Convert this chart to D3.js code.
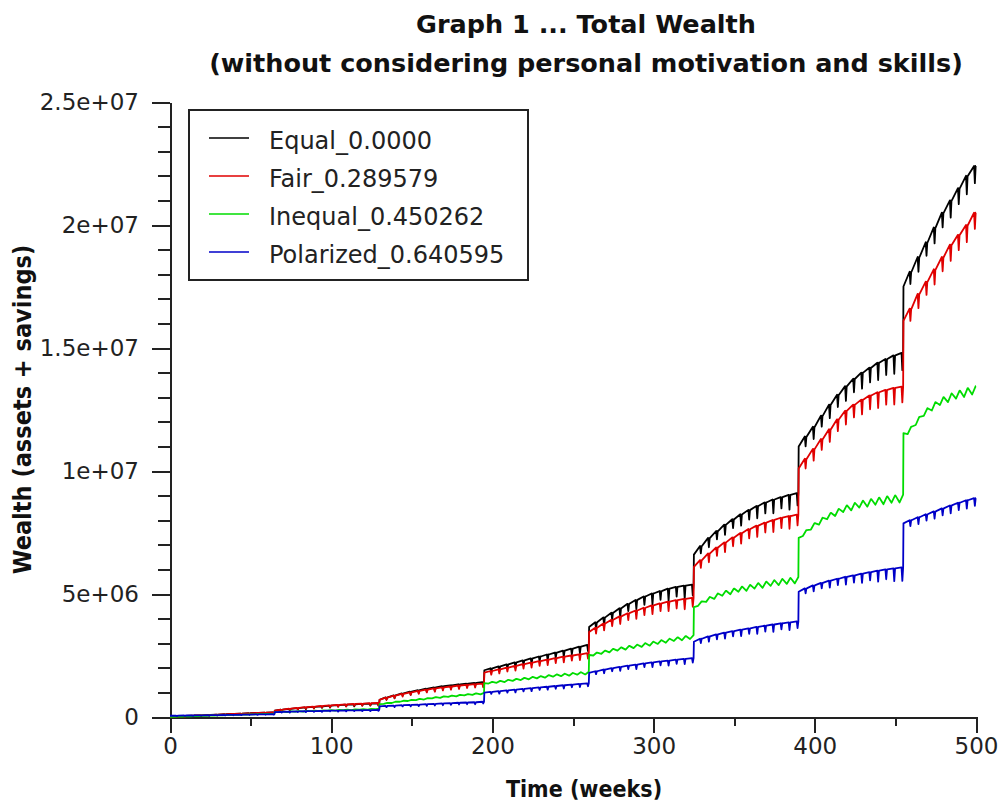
<!DOCTYPE html>
<html>
<head>
<meta charset="utf-8">
<script src="https://cdn.jsdelivr.net/npm/d3@7"></script>
<style>
body { margin: 0; background: #fff; }
svg text { font-family: "DejaVu Sans", sans-serif; fill: #111; }
.axis path, .axis line { stroke: #222; stroke-width: 2; shape-rendering: crispEdges; }
.axis text { font-size: 23px; fill: #222; }
.title { font-size: 25.5px; font-weight: bold; text-anchor: middle; }
.label { font-family: "DejaVu Sans Condensed", "DejaVu Sans", sans-serif; font-stretch: condensed; font-size: 23px; font-weight: bold; text-anchor: middle; }
.ylabel { font-size: 25px; }
.legend text { font-size: 24px; fill: #222; }
</style>
</head>
<body>
<div id="vis"></div>
<script>
// values are in units of 100 000 (wealth), one level every 5 weeks
var UNIT = 1e5;
var weeks = d3.range(0, 501, 5);
var seriesNames = ["Equal_0.0000", "Fair_0.289579", "Inequal_0.450262", "Polarized_0.640595"];
var seriesColors = ["#000000", "#e00000", "#00dc00", "#0000c8"];

var equalLevel = [
	0.1, 0.3, 0.4, 0.6, 0.7, 0.9, 1.0, 1.2, 1.3, 1.4, 1.6, 1.7, 1.8,
	2.6, 3.0, 3.3, 3.6, 3.9, 4.1, 4.3, 4.6, 4.8, 5.0, 5.1, 5.3, 5.4,
	7.0, 8.0, 8.8, 9.6, 10.3, 10.9, 11.5, 12.0, 12.5, 12.9, 13.3, 13.6, 13.9,
	19.0, 19.8, 20.6, 21.4, 22.2, 23.0, 23.8, 24.6, 25.4, 26.2, 27.0, 27.8, 28.6,
	36.6, 38.5, 40.5, 42.4, 44.2, 46.0, 47.6, 49.0, 50.2, 51.2, 52.2, 52.9, 53.4,
	66, 69.5, 72.8, 75.6, 78.2, 80.4, 82.4, 84.2, 85.8, 87.2, 88.4, 89.4, 90.3,
	110, 114, 118, 122.5, 127, 131, 134.5, 137.5, 140, 142, 144, 145.5, 147,
	175, 181, 187, 193, 199, 205, 210, 215, 220, 224
];
var equalPreJump = [1.9, 5.5, 14.2, 29.3, 53.8, 91, 148];
var equalDrop = [
	0.2, 0.3, 0.2, 0.3, 0.3, 0.2, 0.3, 0.4, 0.3, 0.3, 0.4, 0.3, 0.4,
	0.5, 0.6, 0.5, 0.7, 0.6, 0.6, 0.8, 0.6, 0.7, 0.8, 0.7, 0.8, 0.9,
	1.0, 1.2, 1.0, 1.3, 1.1, 1.2, 1.4, 1.2, 1.3, 1.5, 1.3, 1.4, 1.6,
	1.6, 2.0, 1.8, 2.2, 1.9, 2.3, 2.0, 2.4, 2.2, 2.6, 2.3, 2.7, 2.5,
	2.6, 3.2, 2.8, 3.6, 3.0, 3.8, 3.4, 4.5, 3.6, 5.0, 4.0, 5.5, 4.4,
	3.0, 3.8, 3.4, 4.2, 3.6, 4.6, 4.0, 5.0, 4.4, 5.6, 4.6, 6.0, 5.0,
	4.0, 5.0, 4.5, 5.5, 5.0, 6.0, 5.5, 6.5, 6.0, 7.0, 6.5, 7.5, 7.0,
	5.0, 6.0, 5.5, 6.5, 6.0, 7.0, 6.5, 7.5, 7.0
];

var fairLevel = [
	0.1, 0.3, 0.4, 0.5, 0.7, 0.8, 1.0, 1.1, 1.3, 1.4, 1.5, 1.7, 1.8,
	2.6, 3.0, 3.4, 3.7, 4.0, 4.2, 4.5, 4.7, 4.9, 5.1, 5.3, 5.4, 5.6,
	7.0, 7.9, 8.7, 9.4, 10.0, 10.6, 11.1, 11.6, 12.0, 12.4, 12.8, 13.1, 13.4,
	18.0, 18.7, 19.4, 20.1, 20.8, 21.5, 22.1, 22.7, 23.3, 23.9, 24.5, 25.0, 25.5,
	34.6, 36.3, 38.0, 39.5, 40.9, 42.2, 43.3, 44.4, 45.4, 46.2, 46.9, 47.5, 48.0,
	61, 63.8, 66.5, 68.9, 71.0, 73.0, 74.8, 76.4, 77.8, 79.0, 80.1, 81.0, 81.7,
	101, 105, 109, 113, 117, 121, 124.5, 127, 129, 130.7, 132, 133, 133.8,
	161, 166, 172, 177, 182, 187, 192, 196, 200, 205
];
var fairPreJump = [1.9, 5.7, 13.6, 26.0, 48.4, 82.3, 134.3];
var fairDrop = [
	0.2, 0.3, 0.2, 0.3, 0.2, 0.3, 0.3, 0.3, 0.4, 0.3, 0.3, 0.4, 0.3,
	0.5, 0.5, 0.6, 0.6, 0.7, 0.6, 0.7, 0.7, 0.8, 0.7, 0.8, 0.8, 0.9,
	0.9, 1.0, 1.1, 1.0, 1.2, 1.1, 1.3, 1.2, 1.3, 1.4, 1.3, 1.4, 1.5,
	1.5, 1.7, 1.6, 1.9, 1.8, 2.0, 1.9, 2.2, 2.0, 2.3, 2.1, 2.4, 2.3,
	2.4, 2.8, 2.6, 3.1, 2.8, 3.4, 3.0, 3.6, 3.2, 3.9, 3.4, 4.2, 3.6,
	3.2, 3.6, 3.4, 4.0, 3.6, 4.3, 3.8, 4.6, 4.0, 4.9, 4.2, 5.2, 4.4,
	4.0, 4.8, 4.4, 5.2, 4.8, 5.6, 5.2, 6.0, 5.6, 6.4, 6.0, 6.8, 6.4,
	5.0, 5.8, 5.4, 6.2, 5.8, 6.6, 6.2, 7.0, 6.6
];

var inequalLevel = [
	0.1, 0.2, 0.3, 0.4, 0.5, 0.6, 0.7, 0.8, 0.9, 1.0, 1.1, 1.2, 1.3,
	2.0, 2.2, 2.3, 2.4, 2.5, 2.6, 2.7, 2.8, 2.9, 3.0, 3.1, 3.2, 3.3,
	5.2, 5.7, 6.2, 6.6, 7.0, 7.4, 7.7, 8.1, 8.4, 8.7, 9.0, 9.3, 9.6,
	13.8, 14.3, 14.7, 15.1, 15.5, 15.9, 16.3, 16.6, 17.0, 17.3, 17.6, 17.9, 18.2,
	25.2, 26.2, 27.0, 27.7, 28.3, 28.9, 29.4, 30.0, 30.6, 31.2, 31.8, 32.4, 32.9,
	44.7, 47.0, 48.8, 50.2, 51.3, 52.2, 53.0, 53.7, 54.4, 55.0, 55.6, 56.1, 56.5,
	72.8, 76.0, 78.8, 81.0, 83.0, 84.6, 86.0, 87.0, 87.9, 88.6, 89.2, 89.7, 90.1,
	115.4, 118, 122, 125.5, 128, 130, 131.5, 132.7, 133.7, 134.5
];
var inequalPreJump = [1.4, 3.4, 9.8, 18.4, 33.3, 56.9, 90.4];
var inequalDrop = [
	0.1, 0.1, 0.1, 0.1, 0.1, 0.1, 0.1, 0.1, 0.1, 0.1, 0.1, 0.1, 0.1,
	0.2, 0.3, 0.2, 0.3, 0.2, 0.3, 0.2, 0.3, 0.2, 0.3, 0.2, 0.3, 0.2,
	0.4, 0.5, 0.4, 0.5, 0.5, 0.6, 0.5, 0.6, 0.5, 0.6, 0.5, 0.6, 0.6,
	0.7, 0.8, 0.9, 0.8, 0.9, 1.0, 0.9, 1.0, 0.9, 1.0, 1.1, 1.0, 1.1,
	1.2, 1.3, 1.4, 1.3, 1.5, 1.4, 1.5, 1.6, 1.5, 1.6, 1.5, 1.7, 1.6,
	1.8, 2.0, 2.2, 2.0, 2.3, 2.1, 2.4, 2.2, 2.5, 2.3, 2.5, 2.4, 2.6,
	2.4, 2.6, 2.8, 2.6, 2.9, 2.7, 3.0, 2.8, 3.1, 2.9, 3.2, 3.0, 3.2,
	3.0, 3.3, 3.1, 3.4, 3.2, 3.5, 3.3, 3.6, 3.4
];

var polarizedLevel = [
	0.5, 0.55, 0.6, 0.65, 0.7, 0.75, 0.8, 0.85, 0.9, 0.95, 1.0, 1.05, 1.1,
	2.0, 2.1, 2.2, 2.3, 2.4, 2.4, 2.5, 2.6, 2.6, 2.7, 2.7, 2.8, 2.8,
	4.3, 4.5, 4.6, 4.8, 4.9, 5.0, 5.2, 5.3, 5.5, 5.6, 5.8, 5.9, 6.0,
	9.9, 10.2, 10.5, 10.8, 11.1, 11.4, 11.7, 12.0, 12.3, 12.6, 12.9, 13.2, 13.5,
	17.9, 18.6, 19.3, 19.9, 20.4, 20.9, 21.3, 21.8, 22.2, 22.6, 22.9, 23.3, 23.6,
	30.6, 31.8, 32.8, 33.6, 34.3, 34.9, 35.5, 36.0, 36.6, 37.1, 37.6, 38.1, 38.5,
	50.9, 52.3, 53.5, 54.5, 55.4, 56.2, 57.0, 57.6, 58.3, 58.9, 59.5, 60.0, 60.4,
	78.7, 80, 81.2, 82.4, 83.6, 84.8, 86, 87.1, 88.1, 89
];
var polarizedPreJump = [1.15, 2.9, 6.2, 13.7, 23.9, 38.9, 60.8];
var polarizedDrop = [
	0.2, 0.2, 0.2, 0.2, 0.2, 0.2, 0.2, 0.2, 0.2, 0.2, 0.2, 0.2, 0.2,
	0.3, 0.4, 0.3, 0.4, 0.3, 0.4, 0.3, 0.4, 0.4, 0.3, 0.4, 0.4, 0.4,
	0.5, 0.6, 0.5, 0.6, 0.6, 0.7, 0.6, 0.7, 0.6, 0.7, 0.7, 0.8, 0.7,
	0.8, 1.0, 0.9, 1.1, 1.0, 1.2, 1.0, 1.2, 1.1, 1.3, 1.1, 1.3, 1.2,
	1.2, 1.5, 1.3, 1.6, 1.4, 1.8, 1.5, 1.9, 1.6, 2.0, 1.7, 2.1, 1.8,
	1.8, 2.2, 2.0, 2.4, 2.1, 2.6, 2.2, 2.8, 2.4, 3.0, 2.5, 3.2, 2.8,
	2.0, 2.4, 2.2, 2.8, 2.6, 3.2, 3.0, 3.8, 3.4, 4.5, 4.0, 5.2, 5.5,
	2.4, 2.8, 2.6, 3.0, 2.8, 3.2, 3.0, 3.4, 3.2
];

var xTicks = [0, 100, 200, 300, 400, 500];
var xMinorTicks = [50, 150, 250, 350, 450];
var yTicks = [0, 5e6, 1e7, 1.5e7, 2e7, 2.5e7];
var yTickLabels = ["0", "5e+06", "1e+07", "1.5e+07", "2e+07", "2.5e+07"];
var yMinorTicks = d3.range(1e6, 2.5e7, 1e6).filter(function (v) { return v % 5e6 !== 0; });

var TEETH_PER_ERA = 13;

// build the polyline of one series: rise, a short spike down, then a step at each era end
function buildPoints(level, drop, preJump, vShape) {
	var pts = [];
	for (var i = 0; i < drop.length; i++) {
		var w = weeks[i];
		var boundary = (i + 1) % TEETH_PER_ERA === 0;
		var end = boundary ? preJump[(i + 1) / TEETH_PER_ERA - 1] : level[i + 1];
		var dip = end - drop[i];
		pts.push([w, level[i]]);
		if (vShape) {
			pts.push([w + 2.6, dip], [w + 4.8, end]);
		} else {
			pts.push([w + 3.8, end], [w + 4.3, dip], [w + 4.8, end]);
		}
	}
	pts.push([weeks[weeks.length - 1], level[level.length - 1]]);
	return pts;
}

var series = [
	buildPoints(equalLevel, equalDrop, equalPreJump, false),
	buildPoints(fairLevel, fairDrop, fairPreJump, false),
	buildPoints(inequalLevel, inequalDrop, inequalPreJump, true),
	buildPoints(polarizedLevel, polarizedDrop, polarizedPreJump, false)
];

var width = 1005;
var height = 806;
var plot = { left: 170, right: 976, top: 102, bottom: 717 };

var x = d3.scaleLinear().domain([0, 500]).range([plot.left, plot.right]);
var y = d3.scaleLinear().domain([0, 2.5e7]).range([plot.bottom, plot.top]);

var svg = d3.select("#vis").append("svg")
	.attr("width", width)
	.attr("height", height);

// axes
svg.append("g")
	.attr("class", "axis")
	.attr("transform", "translate(" + plot.left + ",0)")
	.call(d3.axisLeft(y).tickValues(yMinorTicks).tickSize(12).tickSizeOuter(0).tickFormat(""));

svg.append("g")
	.attr("class", "axis")
	.attr("transform", "translate(" + plot.left + ",0)")
	.call(d3.axisLeft(y).tickValues(yTicks).tickSize(18).tickSizeOuter(0).tickPadding(13)
		.tickFormat(function (d, i) { return yTickLabels[i]; }));

svg.append("g")
	.attr("class", "axis")
	.attr("transform", "translate(0," + plot.bottom + ")")
	.call(d3.axisBottom(x).tickValues(xMinorTicks).tickSize(9).tickSizeOuter(0).tickFormat(""));

svg.append("g")
	.attr("class", "axis")
	.attr("transform", "translate(0," + plot.bottom + ")")
	.call(d3.axisBottom(x).tickValues(xTicks).tickSize(16).tickSizeOuter(0).tickPadding(5));

// series lines
var line = d3.line()
	.x(function (d) { return x(d[0]); })
	.y(function (d) { return y(d[1] * UNIT); });

svg.selectAll(".series")
	.data(series)
	.enter().append("path")
	.attr("class", "series")
	.attr("d", line)
	.attr("fill", "none")
	.attr("stroke", function (d, i) { return seriesColors[i]; })
	.attr("stroke-width", 1.8)
	.attr("stroke-linejoin", "round");

// legend
var legend = svg.append("g").attr("class", "legend");
legend.append("rect")
	.attr("x", 189).attr("y", 110)
	.attr("width", 339).attr("height", 170)
	.attr("fill", "#fff")
	.attr("stroke", "#222")
	.attr("stroke-width", 2);

seriesNames.forEach(function (name, i) {
	var cy = 138 + i * 38;
	legend.append("line")
		.attr("x1", 209).attr("x2", 249)
		.attr("y1", cy).attr("y2", cy)
		.attr("stroke", seriesColors[i])
		.attr("stroke-width", 1.5);
	legend.append("text")
		.attr("x", 269).attr("y", cy + 11)
		.text(name);
});

// titles
svg.append("text").attr("class", "title")
	.attr("x", 586).attr("y", 33)
	.text("Graph 1 ... Total Wealth");
svg.append("text").attr("class", "title")
	.attr("x", 586).attr("y", 72)
	.text("(without considering personal motivation and skills)");

svg.append("text").attr("class", "label")
	.attr("x", 584).attr("y", 797)
	.text("Time (weeks)");

svg.append("text").attr("class", "label ylabel")
	.attr("transform", "translate(31," + ((plot.top + plot.bottom) / 2) + ") rotate(-90)")
	.text("Wealth (assets + savings)");
</script>
</body>
</html>
